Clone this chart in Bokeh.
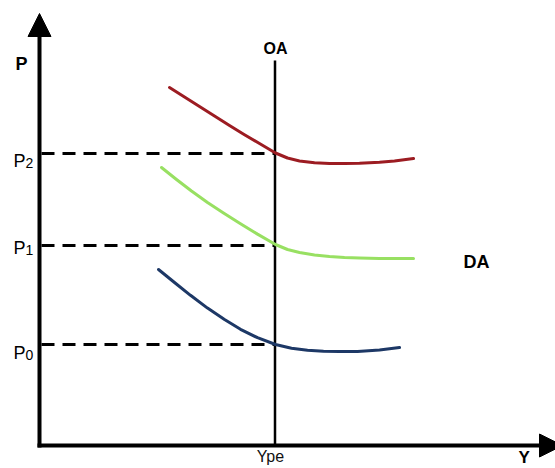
from bokeh.plotting import figure
from bokeh.models import Range1d, Arrow, NormalHead, ColumnDataSource
from bokeh.core.properties import value
from bokeh.embed import file_html
from bokeh.resources import INLINE

# ---- data (abstract units: Y output on x, P price on y) ----
ype = 235.5                      # potential output (OA)
p_levels = [101, 200, 292]       # P0, P1, P2
p_names = ["P", "P", "P"]
p_subs = ["0", "1", "2"]

red_x = [130, 145, 160, 175, 190, 205, 220, 236, 248, 260, 275, 290, 305, 320, 340, 355, 374]
red_y = [358, 348.5, 339, 329.5, 320, 310.8, 302, 292.5, 287.5, 284.5, 282.7, 282, 281.9, 282.2, 283.2, 284.6, 287]
green_x = [122, 137, 152, 168, 184, 201, 218, 236, 248, 260, 275, 290, 305, 320, 340, 374]
green_y = [278, 266, 254.5, 243, 232.5, 221.8, 211.4, 201, 196, 193, 190.5, 189, 188, 187.5, 187, 187]
blue_x = [119, 135, 151, 168, 185, 201, 218, 236, 252, 268, 284, 300, 318, 340, 360]
blue_y = [176, 163, 150.2, 137.4, 126, 116.2, 107.8, 101, 97.3, 95.2, 94.2, 93.9, 94.1, 95.6, 98]

FONT = value("Liberation Sans")

p = figure(width=555, height=468, x_range=Range1d(-39, 516), y_range=Range1d(-23, 445),
           output_backend="svg", toolbar_location=None, min_border=0,
           x_axis_location=None, y_axis_location=None)
p.grid.visible = False
p.outline_line_color = None
p.background_fill_color = "white"
p.border_fill_color = "white"

# dashed price lines
n = len(p_levels)
p.segment(x0=[2] * n, y0=p_levels, x1=[ype] * n, y1=p_levels,
          line_color="black", line_width=3, line_dash="13 8")

# OA vertical line
p.segment(x0=[ype], y0=[0], x1=[ype], y1=[385], line_color="black", line_width=2.5)

# DA curves
p.line(red_x, red_y, line_color="#9c1c22", line_width=3, line_join="round", line_cap="round")
p.line(green_x, green_y, line_color="#98e062", line_width=3, line_join="round", line_cap="round")
p.line(blue_x, blue_y, line_color="#1d3866", line_width=3, line_join="round", line_cap="round")

# axes with arrow heads
p.add_layout(Arrow(end=NormalHead(size=23, fill_color="black", line_color="black"),
                   x_start=0, y_start=-2, x_end=0, y_end=432,
                   line_color="black", line_width=4))
p.add_layout(Arrow(end=NormalHead(size=23, fill_color="black", line_color="black"),
                   x_start=-2, y_start=0, x_end=523, y_end=0,
                   line_color="black", line_width=4))

# price labels with subscripts
lab_dy = [-8, -2, -7]
src_p = ColumnDataSource(dict(x=[-26] * n, y=[v + d for v, d in zip(p_levels, lab_dy)], t=p_names))
p.text(x="x", y="y", text="t", source=src_p, text_font=FONT, text_font_size="18px",
       text_color="black", text_baseline="alphabetic", text_align="left")
src_s = ColumnDataSource(dict(x=[-14] * n, y=[v + d - 2 for v, d in zip(p_levels, lab_dy)], t=p_subs))
p.text(x="x", y="y", text="t", source=src_s, text_font=FONT, text_font_size="14px",
       text_color="black", text_baseline="alphabetic", text_align="left")

# bold labels
src_b = ColumnDataSource(dict(x=[-24, 236, 424, 479], y=[382, 397, 184, -12],
                              t=["P", "OA", "DA", "Y"], a=["left", "center", "left", "left"],
                              s=["18px", "16px", "18px", "17px"]))
p.text(x="x", y="y", text="t", source=src_b, text_font=FONT, text_font_size="s",
       text_font_style="bold", text_color="black", text_baseline="alphabetic", text_align="a")

# Ype label
p.text(x=[231], y=[-11], text=["Ype"], text_font=FONT, text_font_size="16px",
       text_color="#111111", text_baseline="alphabetic", text_align="center")

open("out.html", "w").write(file_html(p, INLINE))
